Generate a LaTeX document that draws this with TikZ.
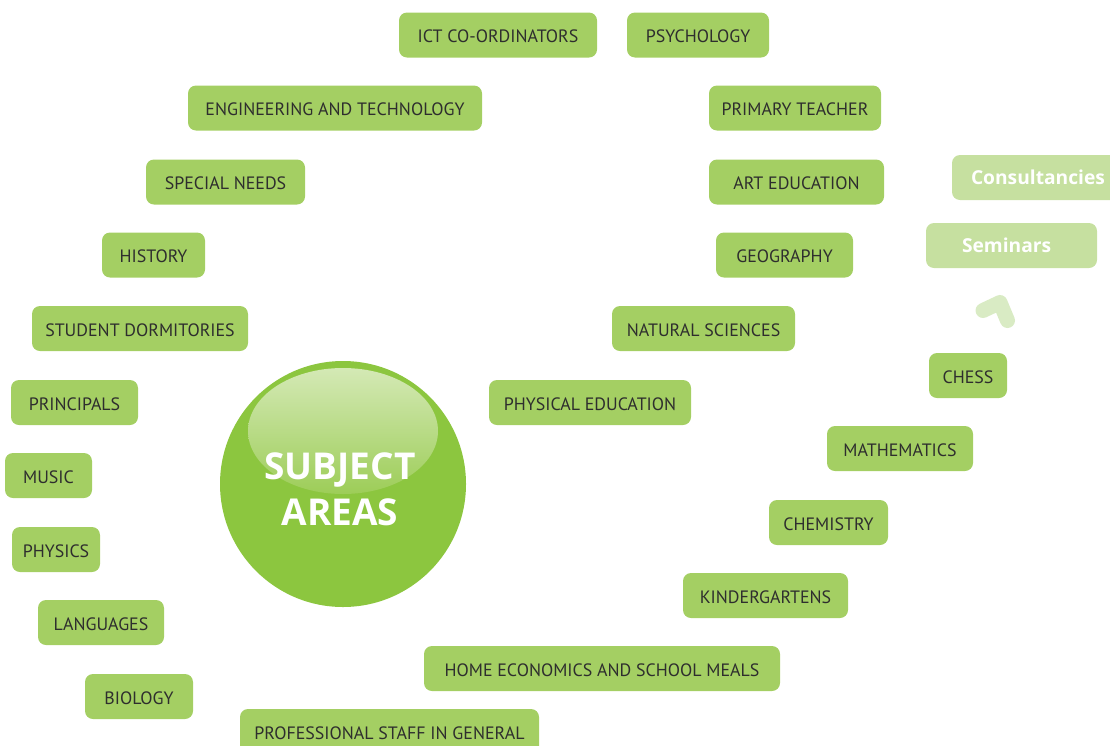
\documentclass[tikz,border=0pt]{standalone}
\usepackage{fontspec}
\setmainfont{PT Sans}
\newfontfamily\boldfont{Open Sans}
\definecolor{boxgreen}{HTML}{A4CF63}
\definecolor{circgreen}{HTML}{8CC63F}
\definecolor{paleg}{HTML}{C6E0A0}
\definecolor{chevg}{HTML}{D9EBC4}
\definecolor{hitop}{HTML}{D4E9B5}
\definecolor{hibot}{HTML}{9DCD58}
\definecolor{txt}{HTML}{2E2E2E}
\usetikzlibrary{shadings}
\tikzset{
  subj/.style={draw=none, fill=boxgreen, rounded corners=8pt, minimum height=45pt,
    inner sep=0pt, text height=15.5pt, text depth=0pt,
    font=\fontsize{17.9}{18}\selectfont, text=txt},
  pale/.style={draw=none, fill=paleg, rounded corners=8pt, minimum height=45pt,
    inner sep=0pt, font=\boldfont\bfseries\fontsize{19.2}{19}\selectfont, text=white}
}
\begin{document}
\begin{tikzpicture}[x=1pt,y=-1pt]
\useasboundingbox (0,0) rectangle (1110,745);
% central circle
\node[circle, fill=circgreen, minimum size=246pt, inner sep=0pt] (hub) at (343,484) {};
\shade[top color=hitop, bottom color=hibot] (343,431) ellipse [x radius=95pt, y radius=63pt];
\node[text=white, font=\boldfont\bfseries\fontsize{37}{46}\selectfont, align=center] (hubtext) at (340,489) {SUBJECT\\AREAS};
% boxes
\node[subj, minimum width=198pt] (ict) at (498,35) {ICT CO-ORDINATORS};
\node[subj, minimum width=142pt] (psy) at (698,35) {PSYCHOLOGY};
\node[subj, minimum width=294pt] (eng) at (335,108) {ENGINEERING AND TECHNOLOGY};
\node[subj, minimum width=172pt] (prim) at (795,108) {PRIMARY TEACHER};
\node[subj, minimum width=159pt] (spec) at (225.5,182) {SPECIAL NEEDS};
\node[subj, minimum width=175pt] (art) at (796.5,182) {ART EDUCATION};
\node[subj, minimum width=103pt] (hist) at (153.5,255) {HISTORY};
\node[subj, minimum width=137pt] (geo) at (784.5,255) {GEOGRAPHY};
\node[subj, minimum width=216pt] (dorm) at (140,328.5) {STUDENT DORMITORIES};
\node[subj, minimum width=183pt] (nat) at (703.5,328.5) {NATURAL SCIENCES};
\node[subj, minimum width=127pt] (princ) at (74.5,402.5) {PRINCIPALS};
\node[subj, minimum width=202pt] (phed) at (590,402.5) {PHYSICAL EDUCATION};
\node[subj, minimum width=87pt] (mus) at (48.5,475.5) {MUSIC};
\node[subj, minimum width=88pt] (phys) at (56,549.5) {PHYSICS};
\node[subj, minimum width=126pt] (lang) at (101,622.5) {LANGUAGES};
\node[subj, minimum width=108pt] (bio) at (139,696.5) {BIOLOGY};
\node[subj, minimum width=299pt] (prof) at (389.5,731.5) {PROFESSIONAL STAFF IN GENERAL};
\node[subj, minimum width=356pt] (home) at (602,668.5) {HOME ECONOMICS AND SCHOOL MEALS};
\node[subj, minimum width=165pt] (kind) at (765.5,595.5) {KINDERGARTENS};
\node[subj, minimum width=119pt] (chem) at (828.5,522.5) {CHEMISTRY};
\node[subj, minimum width=146pt] (math) at (900,448.5) {MATHEMATICS};
\node[subj, minimum width=78pt] (chess) at (968,375.5) {CHESS};
% pale boxes
\node[pale, minimum width=171pt, text width=171pt, align=left] (sem) at (1011.5,245.5) {\hspace*{36pt}Seminars};
\node[pale, minimum width=180pt, text width=180pt, align=left] (cons) at (1042,177.5) {\hspace*{19pt}Consultancies};
% chevron
\coordinate (cvl) at (983,310.5);
\coordinate (cva) at (1000,302.5);
\coordinate (cvr) at (1007.5,320.5);
\draw[chevg, line width=15pt, line cap=round, line join=round] (cvl) -- (cva) -- (cvr);
\end{tikzpicture}
\end{document}
